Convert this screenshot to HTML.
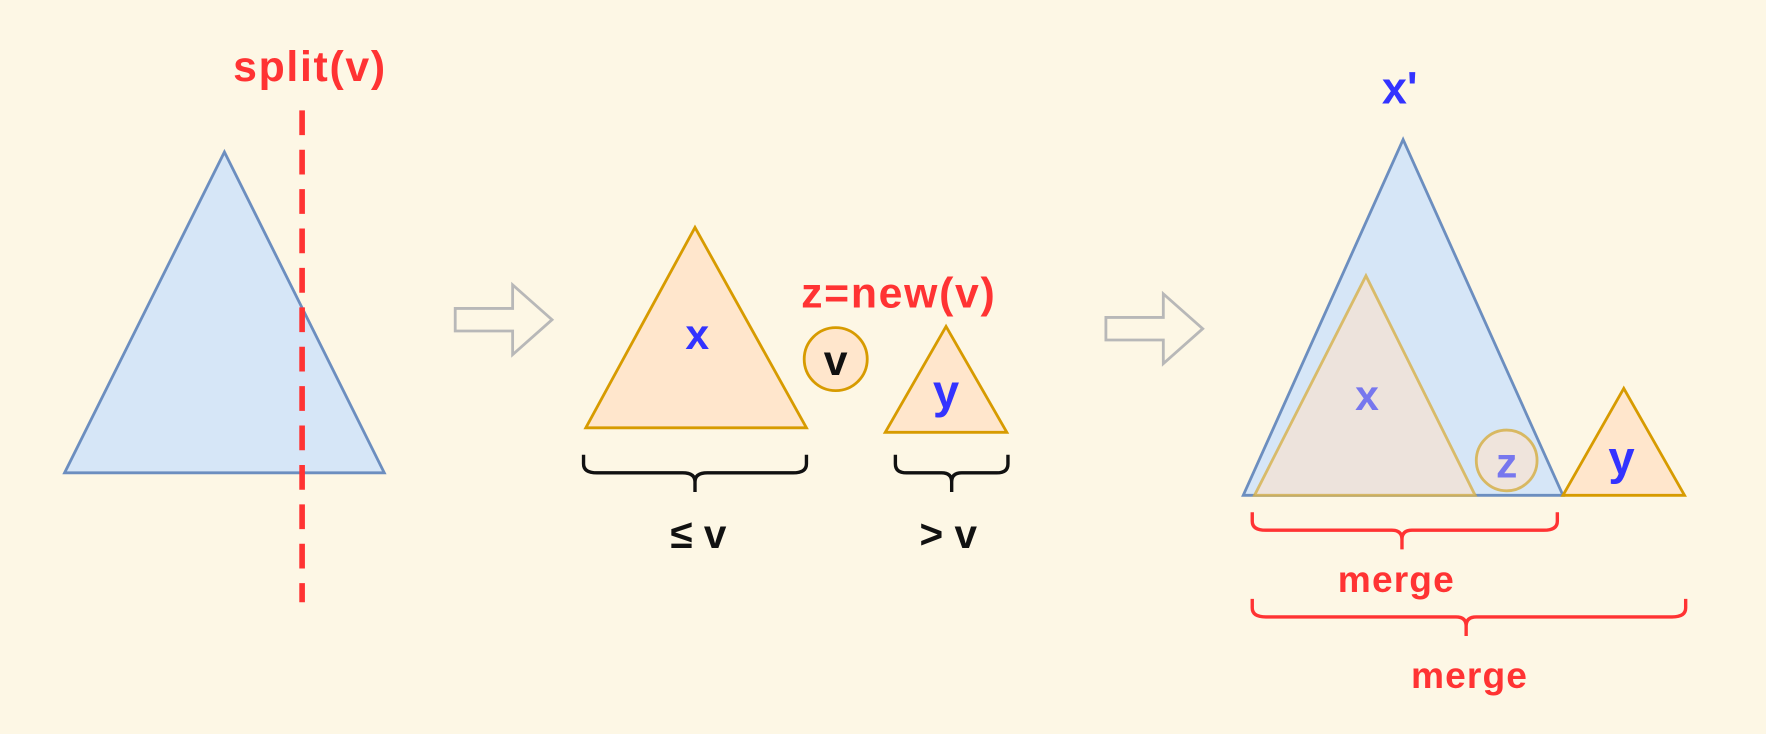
<!DOCTYPE html>
<html><head><meta charset="utf-8"><style>
html,body{margin:0;padding:0;background:#fdf7e5;}
svg{display:block;}
text{font-family:"Liberation Sans","DejaVu Sans",sans-serif;font-weight:bold;}
</style></head><body>
<svg width="1766" height="734" viewBox="0 0 1568 652" xmlns="http://www.w3.org/2000/svg">
<rect width="1568" height="652" fill="#fdf7e5"/>
<polygon points="199,135 57,420 341,420" fill="#d6e6f7" stroke="#6c8ebf" stroke-width="2.5"/>
<line x1="268" y1="98" x2="268" y2="535" stroke="#ff3333" stroke-width="5" stroke-dasharray="22,13"/>
<text x="275" y="72" font-size="38" fill="#ff3333" text-anchor="middle" letter-spacing="1.5">split(v)</text>
<polygon points="404,274 455,274 455,253 490,284 455,315 455,294 404,294" fill="none" stroke="#b8b8b8" stroke-width="2.5"/>
<polygon points="617,202 520,380 716,380" fill="#ffe6cc" stroke="#d79b00" stroke-width="2.5"/>
<text x="619" y="310" font-size="38" fill="#3333ff" text-anchor="middle">x</text>
<circle cx="742" cy="319" r="28" fill="#ffe6cc" stroke="#d79b00" stroke-width="2.5"/>
<text x="742" y="333" font-size="38" fill="#111" text-anchor="middle">v</text>
<text x="798" y="273" font-size="38" fill="#ff3333" text-anchor="middle" letter-spacing="1.5">z=new(v)</text>
<polygon points="840,290 786,384 894,384" fill="#ffe6cc" stroke="#d79b00" stroke-width="2.5"/>
<text x="840" y="362" font-size="42" fill="#3333ff" text-anchor="middle">y</text>
<path d="M518,404 V412 Q518,420 530,420 H606 Q617,420 617,428 V437 M617,428 Q617,420 628,420 H704 Q716,420 716,412 V404" fill="none" stroke="#111" stroke-width="3"/>
<path d="M795,404 V412 Q795,420 805,420 H836 Q845,420 845,428 V437 M845,428 Q845,420 854,420 H885 Q895,420 895,412 V404" fill="none" stroke="#111" stroke-width="3"/>
<text x="620" y="487" font-size="36" fill="#111" text-anchor="middle">≤ v</text>
<text x="842" y="487" font-size="36" fill="#111" text-anchor="middle">&gt; v</text>
<polygon points="982,282 1033,282 1033,261 1068,292 1033,323 1033,302 982,302" fill="none" stroke="#b8b8b8" stroke-width="2.5"/>
<text x="1243" y="92" font-size="40" fill="#3333ff" text-anchor="middle">x'</text>
<polygon points="1246,124 1104,440 1388,440" fill="#d6e6f7" stroke="#6c8ebf" stroke-width="2.5"/>
<polygon points="1213,245 1114,440 1310,440" fill="#f2e2d5" fill-opacity="0.8" stroke="#d6b04a" stroke-opacity="0.8" stroke-width="2.5"/>
<text x="1214" y="364" font-size="38" fill="#7777ee" text-anchor="middle">x</text>
<circle cx="1338" cy="409" r="27" fill="#efe4dc" stroke="#d6b04a" stroke-opacity="0.85" stroke-width="2.5"/>
<text x="1338" y="424" font-size="38" fill="#7777ee" text-anchor="middle">z</text>
<polygon points="1442,345 1388,440 1496,440" fill="#ffe6cc" stroke="#d79b00" stroke-width="2.5"/>
<text x="1440" y="421" font-size="42" fill="#3333ff" text-anchor="middle">y</text>
<path d="M1112,455 V463 Q1112,471 1124,471 H1236 Q1245,471 1245,479 V488 M1245,479 Q1245,471 1254,471 H1371 Q1383,471 1383,463 V455" fill="none" stroke="#ff3333" stroke-width="3"/>
<text x="1240" y="526" font-size="33" fill="#ff3333" text-anchor="middle" letter-spacing="1">merge</text>
<path d="M1112,532 V540 Q1112,548 1124,548 H1293 Q1302,548 1302,556 V565 M1302,556 Q1302,548 1311,548 H1485 Q1497,548 1497,540 V532" fill="none" stroke="#ff3333" stroke-width="3"/>
<text x="1305" y="611" font-size="33" fill="#ff3333" text-anchor="middle" letter-spacing="1">merge</text>
</svg>
</body></html>
